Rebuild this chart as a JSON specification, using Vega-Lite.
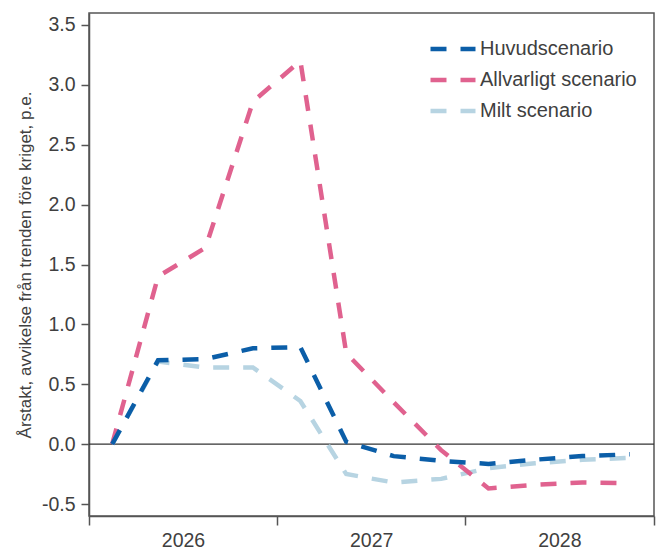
{
  "$schema": "https://vega.github.io/schema/vega-lite/v6.json",
  "width": 565,
  "height": 503,
  "autosize": {"type": "none"},
  "padding": {"left": 89, "top": 13, "right": 2, "bottom": 32},
  "background": "white",
  "config": {
    "font": "Liberation Sans",
    "view": {"stroke": "#555", "strokeWidth": 1.5},
    "axis": {
      "domainColor": "#555",
      "domainWidth": 1.5,
      "tickColor": "#555",
      "tickWidth": 1.5,
      "labelFontSize": 19.5,
      "labelColor": "#404040",
      "titleFontSize": 17,
      "titleColor": "#404040",
      "titleFontWeight": "normal",
      "grid": false
    },
    "legend": {
      "labelFontSize": 20,
      "labelColor": "#404040",
      "symbolType": "stroke",
      "symbolSize": 2025,
      "symbolStrokeWidth": 4.5,
      "symbolDash": [16, 14],
      "labelOffset": 2,
      "clipHeight": 26,
      "rowPadding": 5
    }
  },
  "datasets": {
    "series": [
      {"date": "2026-02-15", "scenario": "Milt scenario", "value": 0},
      {"date": "2026-05-15", "scenario": "Milt scenario", "value": 0.69},
      {"date": "2026-08-15", "scenario": "Milt scenario", "value": 0.64},
      {"date": "2026-11-15", "scenario": "Milt scenario", "value": 0.64},
      {"date": "2027-02-15", "scenario": "Milt scenario", "value": 0.36},
      {"date": "2027-05-15", "scenario": "Milt scenario", "value": -0.25},
      {"date": "2027-08-15", "scenario": "Milt scenario", "value": -0.32},
      {"date": "2027-11-15", "scenario": "Milt scenario", "value": -0.29},
      {"date": "2028-02-15", "scenario": "Milt scenario", "value": -0.2},
      {"date": "2028-05-15", "scenario": "Milt scenario", "value": -0.16},
      {"date": "2028-08-15", "scenario": "Milt scenario", "value": -0.13},
      {"date": "2028-11-15", "scenario": "Milt scenario", "value": -0.115},
      {"date": "2026-02-15", "scenario": "Allvarligt scenario", "value": 0},
      {"date": "2026-05-15", "scenario": "Allvarligt scenario", "value": 1.4},
      {"date": "2026-08-15", "scenario": "Allvarligt scenario", "value": 1.64},
      {"date": "2026-11-15", "scenario": "Allvarligt scenario", "value": 2.86},
      {"date": "2027-02-15", "scenario": "Allvarligt scenario", "value": 3.2},
      {"date": "2027-05-15", "scenario": "Allvarligt scenario", "value": 0.76},
      {"date": "2027-08-15", "scenario": "Allvarligt scenario", "value": 0.35},
      {"date": "2027-11-15", "scenario": "Allvarligt scenario", "value": -0.05},
      {"date": "2028-02-15", "scenario": "Allvarligt scenario", "value": -0.37},
      {"date": "2028-05-15", "scenario": "Allvarligt scenario", "value": -0.34},
      {"date": "2028-08-15", "scenario": "Allvarligt scenario", "value": -0.32},
      {"date": "2028-11-15", "scenario": "Allvarligt scenario", "value": -0.325},
      {"date": "2026-02-15", "scenario": "Huvudscenario", "value": 0},
      {"date": "2026-05-15", "scenario": "Huvudscenario", "value": 0.7},
      {"date": "2026-08-15", "scenario": "Huvudscenario", "value": 0.71},
      {"date": "2026-11-15", "scenario": "Huvudscenario", "value": 0.8},
      {"date": "2027-02-15", "scenario": "Huvudscenario", "value": 0.81},
      {"date": "2027-05-15", "scenario": "Huvudscenario", "value": 0.02},
      {"date": "2027-08-15", "scenario": "Huvudscenario", "value": -0.1},
      {"date": "2027-11-15", "scenario": "Huvudscenario", "value": -0.14},
      {"date": "2028-02-15", "scenario": "Huvudscenario", "value": -0.165},
      {"date": "2028-05-15", "scenario": "Huvudscenario", "value": -0.13},
      {"date": "2028-08-15", "scenario": "Huvudscenario", "value": -0.1},
      {"date": "2028-11-15", "scenario": "Huvudscenario", "value": -0.085}
    ]
  },
  "layer": [
    {
      "data": {"values": [{"zero": 0}]},
      "mark": {"type": "rule", "color": "#333", "strokeWidth": 1.2},
      "encoding": {
        "y": {"field": "zero", "type": "quantitative"}
      }
    },
    {
      "data": {"name": "series"},
      "mark": {"type": "line", "strokeWidth": 4.5, "strokeDash": [16, 14], "strokeCap": "butt", "strokeJoin": "miter"},
      "encoding": {
        "x": {
          "field": "date",
          "type": "temporal",
          "scale": {
            "type": "utc",
            "domain": [
              {"year": 2026, "month": 1, "date": 1, "utc": true},
              {"year": 2029, "month": 1, "date": 1, "utc": true}
            ]
          },
          "axis": {
            "title": null,
            "values": [
              {"year": 2026, "month": 1, "date": 1, "utc": true},
              {"year": 2027, "month": 1, "date": 1, "utc": true},
              {"year": 2028, "month": 1, "date": 1, "utc": true},
              {"year": 2029, "month": 1, "date": 1, "utc": true}
            ],
            "labelExpr": "utcyear(datum.value) < 2029 ? utcFormat(datum.value, '%Y') : ''",
            "labelOffset": 94,
            "labelAlign": "center",
            "labelFlush": false,
            "labelOverlap": false,
            "tickSize": 9,
            "labelPadding": 6
          }
        },
        "y": {
          "field": "value",
          "type": "quantitative",
          "scale": {"domain": [-0.6, 3.6], "nice": false, "zero": false},
          "axis": {
            "title": "Årstakt, avvikelse från trenden före kriget, p.e.",
            "values": [-0.5, 0, 0.5, 1, 1.5, 2, 2.5, 3, 3.5],
            "labelExpr": "replace(format(datum.value, '.1f'), '−', '-')",
            "tickSize": 8,
            "labelPadding": 6,
            "titlePadding": 7
          }
        },
        "color": {
          "field": "scenario",
          "type": "nominal",
          "scale": {
            "domain": ["Huvudscenario", "Allvarligt scenario", "Milt scenario"],
            "range": ["#0B5EA8", "#E0628F", "#B7D4E2"]
          },
          "legend": {
            "title": null,
            "orient": "none",
            "legendX": 339,
            "legendY": 23
          }
        }
      }
    }
  ]
}
